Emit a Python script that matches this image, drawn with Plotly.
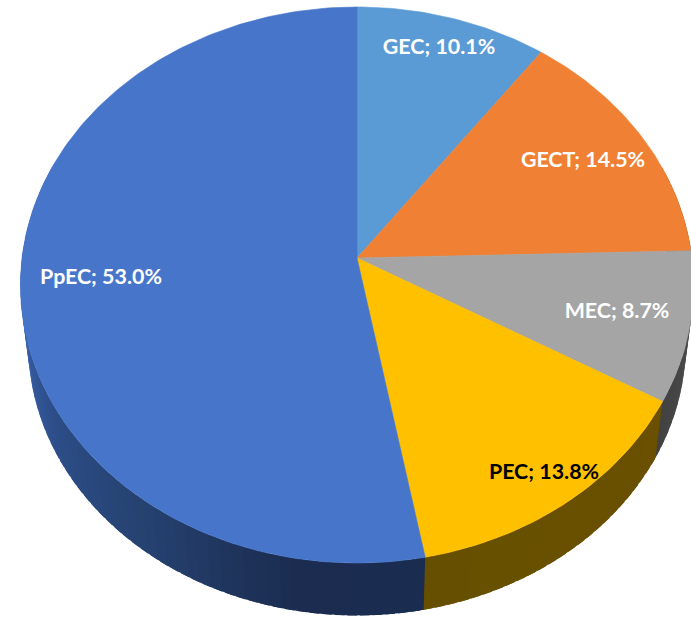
import math
import plotly.graph_objects as go

# Data
categories = ["GEC", "GECT", "MEC", "PEC", "PpEC"]
shares = [10.1, 14.5, 8.7, 13.8, 53.0]

# Styling
top_colors = ["#5b9bd5", "#f08033", "#a5a5a5", "#ffc000", "#4775c9"]
text_colors = ["white", "white", "white", "black", "white"]
label_xy = [(439, 49), (583, 162), (617, 313), (544, 474), (101, 279)]
# wall shade stops: (angle in degrees clockwise from 12 o'clock, hex colour)
wall_stops = [
    (0, "#505050"), (90, "#505050"), (119.8, "#424242"), (119.9, "#6a5000"),
    (169.1, "#665000"), (169.2, "#1a2c50"), (190, "#1b2c50"), (215, "#25416f"),
    (240, "#2c4d88"), (262, "#3a62ad"), (360, "#3a62ad"),
]

# Projection of the tilted disc onto the picture
CX, CY, A, B, K = 357.0, 258.0, 335.0, 275.4, 0.0971
DEPTH, SHRINK = 59.5, 0.977


def project(deg, lower=False):
    t = math.radians(deg)
    x, y = math.sin(t), math.cos(t)
    w = 1 + K * y
    px, py = A * x / w, -B * y / w
    if lower:
        return CX + px * SHRINK, CY + py * SHRINK + DEPTH
    return CX + px, CY + py


def hex_rgb(c):
    return tuple(int(c[i:i + 2], 16) for i in (1, 3, 5))


def wall_color(deg):
    for (a0, c0), (a1, c1) in zip(wall_stops, wall_stops[1:]):
        if a0 <= deg <= a1:
            f = (deg - a0) / (a1 - a0) if a1 > a0 else 0
            r0, r1 = hex_rgb(c0), hex_rgb(c1)
            return "rgb(%d,%d,%d)" % tuple(round(p + (q - p) * f) for p, q in zip(r0, r1))
    return wall_stops[-1][1]


fig = go.Figure()


def polygon(xs, ys, color, width):
    fig.add_trace(go.Scatter(
        x=xs, y=ys, mode="lines", fill="toself", fillcolor=color,
        line=dict(color=color, width=width), hoverinfo="skip", showlegend=False,
    ))


boundaries = [0.0]
for s in shares:
    boundaries.append(boundaries[-1] + s / sum(shares) * 360)

# Side wall: each strip overlaps the next so no seams show
STEP = 2.0
edges = sorted(set(boundaries + [70 + STEP * i for i in range(int((290 - 70) / STEP) + 1)]))
edges = [e for e in edges if 70 <= e <= 290]
for a0, a1 in zip(edges, edges[1:]):
    a2 = min(a1 + 1.5, 290)
    p = [project(a0), project(a2), project(a2, True), project(a0, True)]
    polygon([q[0] for q in p] + [p[0][0]], [q[1] for q in p] + [p[0][1]], wall_color((a0 + a1) / 2), 0)

# Top face
for i, color in enumerate(top_colors):
    a0, a1 = boundaries[i], boundaries[i + 1]
    n = max(4, int((a1 - a0) / 1.0))
    pts = [project(a0 + (a1 - a0) * j / n) for j in range(n + 1)]
    xs = [CX] + [q[0] for q in pts] + [CX]
    ys = [CY] + [q[1] for q in pts] + [CY]
    polygon(xs, ys, color, 0.6)

# Labels
for name, share, (lx, ly), tc in zip(categories, shares, label_xy, text_colors):
    fig.add_trace(go.Scatter(
        x=[lx], y=[ly], mode="text", text=[f"{name}; {share:.1f}%"],
        textposition="middle center",
        textfont=dict(family="Lato, 'Open Sans', sans-serif", size=21.4, color=tc, weight="bold"),
        hoverinfo="skip", showlegend=False,
    ))

fig.update_layout(
    width=691, height=617, margin=dict(l=0, r=0, t=0, b=0, autoexpand=False),
    paper_bgcolor="white", plot_bgcolor="white", showlegend=False,
    xaxis=dict(range=[0, 691], visible=False, fixedrange=True),
    yaxis=dict(range=[617, 0], visible=False, fixedrange=True),
)
fig.write_html(
    "out.html",
    config={"displayModeBar": False},
    post_script="document.body.style.margin='0';document.documentElement.style.overflow='hidden';",
)
